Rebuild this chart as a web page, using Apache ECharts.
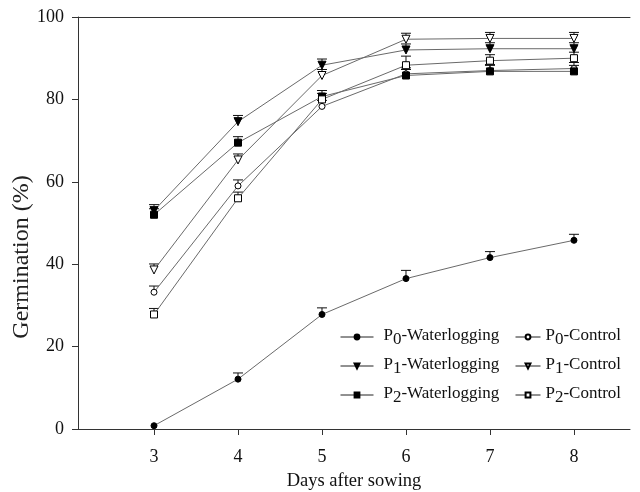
<!DOCTYPE html>
<html>
<head>
<meta charset="utf-8">
<script src="https://cdn.jsdelivr.net/npm/echarts@6/dist/echarts.min.js"></script>
<style>html,body{margin:0;padding:0;background:#fff}#c{width:640px;height:492px}</style>
</head>
<body>
<div id="c"></div>
<script>
var days = [3, 4, 5, 6, 7, 8];
var xTicks = [3, 4, 5, 6, 7, 8];
var yTicks = [0, 20, 40, 60, 80, 100];
var seriesNames = ['P0-Waterlogging', 'P0-Control', 'P1-Waterlogging', 'P1-Control', 'P2-Waterlogging', 'P2-Control'];
var p0Water = [0.8, 12.1, 27.8, 36.5, 41.6, 45.8];
var p0WaterErr = [0, 1.5, 1.6, 2.0, 1.0, 0.8];
var p0Control = [33.2, 59.0, 78.3, 86.2, 87.0, 87.5];
var p0ControlErr = [1.5, 1.2, 0.8, 0.8, 0.5, 0.5];
var p1Water = [53.0, 74.6, 88.3, 92.0, 92.3, 92.3];
var p1WaterErr = [1.0, 1.5, 1.5, 1.2, 1.2, 1.2];
var p1Control = [38.6, 65.3, 85.8, 94.6, 94.8, 94.8];
var p1ControlErr = [1.3, 1.2, 1.0, 1.0, 0.8, 0.8];
var p2Water = [52.0, 69.5, 80.7, 85.8, 86.8, 86.8];
var p2WaterErr = [1.0, 0.8, 0.8, 0.8, 0.8, 0.8];
var p2Control = [27.8, 56.0, 80.0, 88.3, 89.4, 90.0];
var p2ControlErr = [0.9, 1.5, 1.0, 2.2, 1.4, 1.2];

var FONT = '"Liberation Serif", "Times New Roman", serif';
var DOWN_TRI = 'path://M0,0 L10,0 L5,9 Z';

var defs = [
  {name: seriesNames[0], v: p0Water, e: p0WaterErr, sym: 'circle', size: 6, open: false},
  {name: seriesNames[1], v: p0Control, e: p0ControlErr, sym: 'circle', size: 6, open: true},
  {name: seriesNames[2], v: p1Water, e: p1WaterErr, sym: DOWN_TRI, size: 8, open: false},
  {name: seriesNames[3], v: p1Control, e: p1ControlErr, sym: DOWN_TRI, size: 8, open: true},
  {name: seriesNames[4], v: p2Water, e: p2WaterErr, sym: 'rect', size: 7, open: false},
  {name: seriesNames[5], v: p2Control, e: p2ControlErr, sym: 'rect', size: 7, open: true}
];

var series = [];
defs.forEach(function (d) {
  series.push({
    type: 'custom',
    name: d.name + '-err',
    silent: true,
    z: 1,
    data: days.map(function (x, i) { return [x, d.v[i], d.e[i]]; }),
    renderItem: function (params, api) {
      var x = api.value(0), y = api.value(1), e = api.value(2);
      if (!(e > 0)) { return {type: 'group', children: []}; }
      var c = api.coord([x, y]);
      var t = api.coord([x, y + e]);
      var topY = Math.min(t[1], c[1] - 6);
      return {
        type: 'group',
        children: [
          {type: 'line', shape: {x1: c[0], y1: c[1], x2: c[0], y2: topY}, style: {stroke: '#111', lineWidth: 1}},
          {type: 'line', shape: {x1: c[0] - 5, y1: topY, x2: c[0] + 5, y2: topY}, style: {stroke: '#111', lineWidth: 1}}
        ]
      };
    }
  });
  series.push({
    type: 'line',
    name: d.name,
    z: 3,
    data: days.map(function (x, i) { return [x, d.v[i]]; }),
    symbol: d.sym,
    symbolSize: d.size,
    showAllSymbol: true,
    lineStyle: {color: '#6a6a6a', width: 1},
    itemStyle: {color: d.open ? '#ffffff' : '#000000', borderColor: '#000', borderWidth: 1, opacity: 1},
    emphasis: {disabled: true},
    animation: false
  });
});

function makeFmt(first) {
  return function (name) {
    return name.replace(/^P(\d)(.*)$/, '{' + first + '|P}{s|$1}{a|$2}');
  };
}
var rich = {
  a: {fontFamily: FONT, fontSize: 17, color: '#111', lineHeight: 20, verticalAlign: 'top'},
  p1: {fontFamily: FONT, fontSize: 17, color: '#111', lineHeight: 20, verticalAlign: 'top', padding: [0, 0, 0, 5]},
  p2: {fontFamily: FONT, fontSize: 17, color: '#111', lineHeight: 20, verticalAlign: 'top', padding: [0, 0, 0, 0]},
  s: {fontFamily: FONT, fontSize: 17, color: '#111', lineHeight: 20, verticalAlign: 'top', padding: [4, 0, 0, 0]}
};
var legendBase = {
  orient: 'vertical',
  top: 322,
  itemHeight: 6,
  itemGap: 8,
  textStyle: {rich: rich, fontFamily: FONT, fontSize: 17},
  lineStyle: {color: '#222', width: 1},
  selectedMode: false
};

var chart = echarts.init(document.getElementById('c'), null, {renderer: 'canvas'});
chart.setOption({
  animation: false,
  backgroundColor: '#fff',
  grid: {left: 78, right: 10, top: 17, bottom: 63, containLabel: false, outerBoundsMode: 'none'},
  legend: [
    Object.assign({}, legendBase, {left: 335, itemWidth: 33, formatter: makeFmt('p1'), data: [seriesNames[0], seriesNames[2], seriesNames[4]]}),
    Object.assign({}, legendBase, {left: 510, itemWidth: 25, formatter: makeFmt('p2'), data: [seriesNames[1], seriesNames[3], seriesNames[5]]})
  ],
  graphic: [{
    type: 'text',
    x: 22,
    y: 257,
    rotation: Math.PI / 2,
    style: {text: 'Germination (%)', fontFamily: FONT, fontSize: 24, fill: '#222', align: 'center', verticalAlign: 'middle'}
  }],
  xAxis: [{
    type: 'value',
    min: 2.095,
    max: 8.667,
    name: 'Days after sowing',
    nameLocation: 'middle',
    nameGap: 43,
    nameTextStyle: {fontFamily: FONT, fontSize: 18.5, color: '#111'},
    axisLine: {lineStyle: {color: '#333', width: 1}},
    axisTick: {show: true, inside: false, length: 6, customValues: xTicks, lineStyle: {color: '#333'}},
    axisLabel: {customValues: xTicks, margin: 19, fontFamily: FONT, fontSize: 18, color: '#111'},
    splitLine: {show: false}
  }, {
    type: 'value',
    position: 'top',
    min: 2.095,
    max: 8.667,
    axisLine: {show: true, lineStyle: {color: '#333', width: 1}},
    axisTick: {show: false},
    axisLabel: {show: false},
    splitLine: {show: false}
  }],
  yAxis: {
    type: 'value',
    min: 0,
    max: 100,
    interval: 20,
    axisLine: {show: true, lineStyle: {color: '#333', width: 1}},
    axisTick: {show: true, inside: false, length: 6, lineStyle: {color: '#333'}},
    axisLabel: {customValues: yTicks, margin: 14, fontFamily: FONT, fontSize: 18, color: '#111'},
    splitLine: {show: false}
  },
  series: series
});
</script>
</body>
</html>
